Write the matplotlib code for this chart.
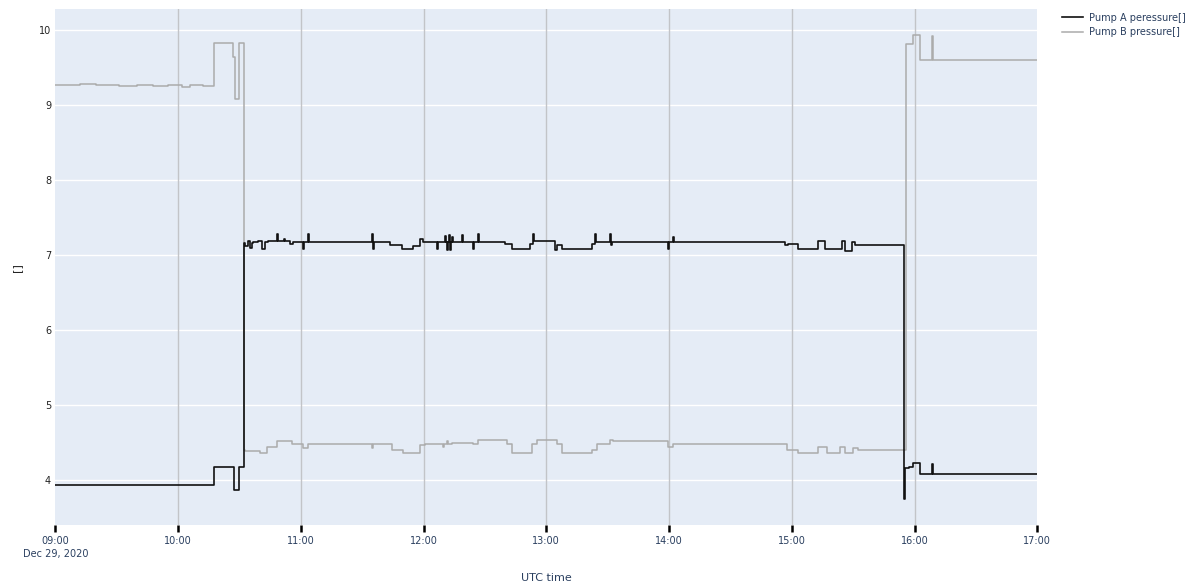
import pandas as pd
import matplotlib
matplotlib.use("Agg")
import matplotlib.pyplot as plt


START = pd.Timestamp("2020-12-29 09:00")

# breakpoints of the step series, minutes after 09:00 UTC
pump_a_minutes = [
    0, 77.4, 87.2, 89.9, 92.2, 92.9, 94.3, 95.3, 96.3, 96.8, 99.2, 101.2,
    102.6, 104.1, 108.5, 109.0, 112.0, 112.5, 114.9, 116.3, 121.2, 121.7,
    123.7, 124.2, 154.9, 155.2, 155.6, 163.8, 169.6, 175.0, 178.4, 179.9,
    186.7, 187.2, 190.6, 191.1, 191.6, 192.1, 192.6, 193.1, 193.6, 194.1,
    194.6, 198.9, 199.4, 204.3, 204.8, 206.8, 207.3, 220.0, 223.4, 232.2,
    233.7, 234.2, 244.4, 245.0, 247.8, 262.5, 264.0, 264.5, 271.3, 271.8,
    272.3, 299.6, 300.1, 302.1, 302.6, 356.8, 358.3, 363.2, 373.0, 376.4,
    384.7, 386.2, 389.6, 391.1, 415.0, 415.4, 417.1, 419.1, 422.5, 428.5,
    428.9, 480,
]
pump_a_values = [
    3.94, 4.18, 3.87, 4.18, 7.17, 7.12, 7.19, 7.10, 7.17, 7.18, 7.19, 7.08,
    7.18, 7.19, 7.29, 7.19, 7.22, 7.19, 7.15, 7.18, 7.09, 7.18,
    7.28, 7.18, 7.28, 7.09, 7.18, 7.14, 7.09, 7.13, 7.22, 7.18,
    7.08, 7.18, 7.26, 7.18, 7.07, 7.18, 7.27, 7.07, 7.18, 7.24,
    7.18, 7.27, 7.18, 7.09, 7.18, 7.28, 7.18, 7.15, 7.09, 7.15,
    7.28, 7.19, 7.07, 7.14, 7.09, 7.15, 7.28, 7.18, 7.29, 7.14,
    7.18, 7.09, 7.18, 7.24, 7.18, 7.14, 7.15, 7.09, 7.19, 7.09,
    7.19, 7.06, 7.18, 7.14, 3.75, 4.16, 4.18, 4.23, 4.08, 4.22,
    4.08, 4.08,
]

pump_b_minutes = [
    0, 12, 20, 31, 40, 48, 55, 62, 66, 72, 77.4, 86.7, 87.7, 89.9, 92.4,
    92.9, 100.2, 103.6, 108.5, 115.8, 121.2, 123.7, 154.9, 155.4, 164.7,
    170.1, 178.4, 180.9, 189.7, 190.2, 191.6, 192.1, 194.1, 204.3, 206.8,
    220.9, 223.4, 233.2, 235.6, 245.4, 247.8, 262.5, 264.9, 271.3, 272.7,
    299.6, 302.1, 357.8, 360.2, 363.2, 373.0, 377.4, 383.7, 386.2, 390.1,
    392.5, 415.8, 419.1, 422.5, 428.5, 428.9, 480,
]
pump_b_values = [
    9.27, 9.28, 9.27, 9.26, 9.27, 9.26, 9.27, 9.25, 9.27, 9.26, 9.83, 9.64,
    9.09, 9.83, 4.40,
    4.39, 4.37, 4.45, 4.53, 4.49, 4.43, 4.49, 4.43, 4.49, 4.41,
    4.37, 4.47, 4.49, 4.45, 4.49, 4.53, 4.49, 4.50, 4.48, 4.54,
    4.49, 4.37, 4.49, 4.54, 4.48, 4.37, 4.41, 4.48, 4.54, 4.52,
    4.45, 4.49, 4.41, 4.40, 4.37, 4.44, 4.37, 4.44, 4.36, 4.43,
    4.40, 9.82, 9.94, 9.61, 9.92, 9.61, 9.61,
]

y_ticks = [4, 5, 6, 7, 8, 9, 10]

BG = "#E5ECF6"
FONT_COLOR = "#2a3f5f"
plt.rcParams["font.family"] = ["DejaVu Sans"]


def to_times(minutes):
    return START + pd.to_timedelta(minutes, unit="min")


fig = plt.figure(figsize=(12.02, 5.83), dpi=100)
ax = fig.add_axes([0.046, 0.0995, 0.817, 0.8845])
ax.set_facecolor(BG)

ax.plot(to_times(pump_a_minutes), pump_a_values, drawstyle="steps-post",
        color="#111111", lw=1.2, label="Pump A peressure[]", zorder=3)
ax.plot(to_times(pump_b_minutes), pump_b_values, drawstyle="steps-post",
        color="#ababab", lw=1.1, label="Pump B pressure[]", zorder=2)

ax.set_xlim(START, START + pd.Timedelta(hours=8))
ax.set_ylim(3.404, 10.28)

hours = [START + pd.Timedelta(hours=h) for h in range(9)]
ax.set_xticks(hours)
labels = [t.strftime("%H:%M") for t in hours]
labels[0] = labels[0] + "\nDec 29, 2020"
ax.set_xticklabels(labels, color=FONT_COLOR, fontsize=7, linespacing=1.35)

ax.set_yticks(y_ticks)
ax.set_yticklabels([str(v) for v in y_ticks], color="#222222", fontsize=7)

# white horizontal grid, grey hourly verticals
for v in y_ticks:
    ax.axhline(v, color="white", lw=1.0, zorder=1)
for t in hours[1:-1]:
    ax.axvline(t, color="#c2c4c8", lw=1.0, zorder=1)

ax.tick_params(axis="x", length=5, width=1.8, color="black", pad=3)
ax.tick_params(axis="y", length=0, pad=3)
for s in ax.spines.values():
    s.set_visible(False)

ax.set_xlabel("UTC time", color=FONT_COLOR, fontsize=8, labelpad=10)
ax.set_ylabel("[]", color="#222222", fontsize=8, labelpad=12)

fig.legend(loc="upper left", bbox_to_anchor=(0.876, 0.993), frameon=False,
           fontsize=7, handlelength=2.2, handletextpad=0.6,
           labelspacing=0.45, labelcolor=FONT_COLOR)

fig.savefig("out.png", dpi=100)
